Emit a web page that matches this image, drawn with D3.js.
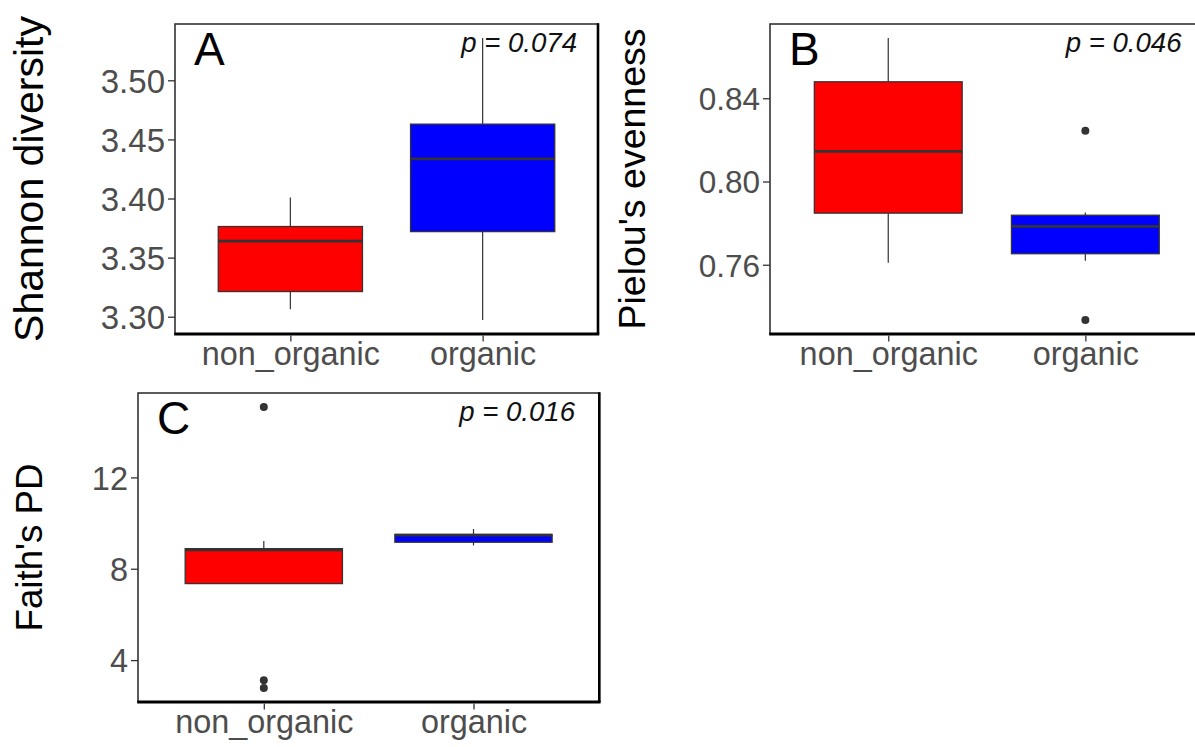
<!DOCTYPE html>
<html>
<head>
<meta charset="utf-8">
<script src="https://cdn.jsdelivr.net/npm/d3@7"></script>
<style>
  html, body { margin: 0; padding: 0; background: #fff; }
  svg text { font-family: "Liberation Sans", Arial, sans-serif; }
</style>
</head>
<body>
<svg id="chart" width="1195" height="747"></svg>
<script>
// ---- data ----
const groups = ["non_organic", "organic"];
const groupColors = ["#FF0000", "#0000FF"];

// box stats per group: [lowerWhisker, q1, median, q3, upperWhisker]
const shannonStats = [[3.3063, 3.3213, 3.3639, 3.3763, 3.4008],
                      [3.2973, 3.3720, 3.4336, 3.4629, 3.5357]];
const shannonOutliers = [[], []];
const shannonTicks = [3.30, 3.35, 3.40, 3.45, 3.50];

const pielouStats = [[0.7610, 0.7848, 0.8145, 0.8479, 0.8689],
                     [0.7619, 0.7653, 0.7784, 0.7838, 0.7851]];
const pielouOutliers = [[], [0.8244, 0.7335]];
const pielouTicks = [0.76, 0.80, 0.84];

const faithStats = [[7.35, 7.35, 8.83, 8.88, 9.21],
                    [9.02, 9.16, 9.47, 9.50, 9.74]];
const faithOutliers = [[15.08, 3.12, 2.78], []];
const faithTicks = [4, 8, 12];

const panelLetters = ["A", "B", "C"];
const pLabels = ["p = 0.074", "p = 0.046", "p = 0.016"];
const yTitles = ["Shannon diversity", "Pielou's evenness", "Faith's PD"];

// ---- layout ----
const panels = [
  { stats: shannonStats, outliers: shannonOutliers, ticks: shannonTicks, fmt: d3.format(".2f"),
    letter: panelLetters[0], p: pLabels[0], title: yTitles[0],
    box: { l: 175, t: 24, r: 598, b: 334 }, tickFs: 33, titleFs: 41, titleX: 43 },
  { stats: pielouStats, outliers: pielouOutliers, ticks: pielouTicks, fmt: d3.format(".2f"),
    letter: panelLetters[1], p: pLabels[1], title: yTitles[1],
    box: { l: 770, t: 24, r: 1203.6, b: 334 }, tickFs: 31.5, titleFs: 37.5, titleX: 645 },
  { stats: faithStats, outliers: faithOutliers, ticks: faithTicks, fmt: d3.format("d"),
    letter: panelLetters[2], p: pLabels[2], title: yTitles[2],
    box: { l: 138, t: 393, r: 599.3, b: 702 }, tickFs: 32.5, titleFs: 36.7, titleX: 42 }
];

const svg = d3.select("#chart");

panels.forEach(P => {
  const { l, t, r, b } = P.box;
  const g = svg.append("g");

  // y domain with ggplot-like 5% expansion
  const allVals = P.stats.flat().concat(P.outliers.flat());
  const [mn, mx] = d3.extent(allVals);
  const pad = (mx - mn) * 0.05;
  const y = d3.scaleLinear().domain([mn - pad, mx + pad]).range([b, t]);
  const x = d3.scalePoint().domain(groups).range([l, r]).padding(0.6);
  const step = x.step();
  const bw = step * 0.75;

  // clip for panel B (runs off the page)
  // panel border
  g.append("rect")
    .attr("x", l).attr("y", t).attr("width", r - l).attr("height", b - t)
    .attr("fill", "none").attr("stroke", "#333").attr("stroke-width", 1.6);

  // boxes
  groups.forEach((grp, i) => {
    const [lo, q1, med, q3, hi] = P.stats[i];
    const cx = x(grp);
    // whiskers
    g.append("line").attr("x1", cx).attr("x2", cx).attr("y1", y(hi)).attr("y2", y(q3))
      .attr("stroke", "#333").attr("stroke-width", 1.2);
    g.append("line").attr("x1", cx).attr("x2", cx).attr("y1", y(q1)).attr("y2", y(lo))
      .attr("stroke", "#333").attr("stroke-width", 1.2);
    // box
    g.append("rect")
      .attr("x", cx - bw / 2).attr("y", y(q3))
      .attr("width", bw).attr("height", y(q1) - y(q3))
      .attr("fill", groupColors[i]).attr("stroke", "#333").attr("stroke-width", 1.3);
    // median
    g.append("line").attr("x1", cx - bw / 2).attr("x2", cx + bw / 2)
      .attr("y1", y(med)).attr("y2", y(med))
      .attr("stroke", "#333").attr("stroke-width", 2.8);
    // outliers
    P.outliers[i].forEach(v => {
      g.append("circle").attr("cx", cx).attr("cy", y(v)).attr("r", 4)
        .attr("fill", "#333");
    });
  });

  // axis lines (heavier bottom and right)
  g.append("line").attr("x1", l - 0.8).attr("x2", r + 1.3).attr("y1", b).attr("y2", b)
    .attr("stroke", "#000").attr("stroke-width", 3);
  g.append("line").attr("x1", r).attr("x2", r).attr("y1", t - 0.8).attr("y2", b)
    .attr("stroke", "#000").attr("stroke-width", 2.6);

  // y axis
  const yAxis = d3.axisLeft(y).tickValues(P.ticks).tickFormat(P.fmt)
    .tickSize(7).tickPadding(3);
  const ya = g.append("g").attr("transform", `translate(${l},0)`).call(yAxis);
  ya.select(".domain").remove();
  ya.selectAll(".tick line").attr("stroke", "#333").attr("stroke-width", 1.3);
  ya.selectAll(".tick text")
    .attr("fill", "#4D4D4D")
    .style("font-size", P.tickFs + "px")
    .style("font-family", "'Liberation Sans', Arial, sans-serif")
    .attr("dy", "0.36em");

  // x axis
  const xAxis = d3.axisBottom(x).tickSize(6).tickPadding(4);
  const xa = g.append("g").attr("transform", `translate(0,${b + 1.5})`).call(xAxis);
  xa.select(".domain").remove();
  xa.selectAll(".tick line").attr("stroke", "#333").attr("stroke-width", 1.3);
  xa.selectAll(".tick text")
    .attr("fill", "#4D4D4D")
    .style("font-size", "32.4px")
    .style("font-family", "'Liberation Sans', Arial, sans-serif")
    .attr("y", 29.5).attr("dy", 0);

  // panel letter
  g.append("text").attr("x", l + 19).attr("y", t + 41)
    .style("font-size", "46px").attr("fill", "#000").text(P.letter);

  // p-value label
  g.append("text").attr("x", l + (P.letter === "B" ? 411.5 : (P.letter === "C" ? 437 : 402)))
    .attr("y", t + 28)
    .attr("text-anchor", "end")
    .style("font-size", "27.6px").style("font-style", "italic")
    .attr("fill", "#111").text(P.p);

  // y title
  g.append("text")
    .attr("transform", `translate(${P.titleX},${(t + b) / 2}) rotate(-90)`)
    .attr("text-anchor", "middle")
    .style("font-size", P.titleFs + "px").attr("fill", "#000")
    .text(P.title);
});
</script>
</body>
</html>
